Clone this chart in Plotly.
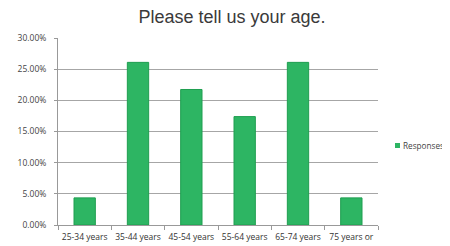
import plotly.graph_objects as go

categories = ["25-34 years", "35-44 years", "45-54 years", "55-64 years", "65-74 years", "75 years or"]
responses = [0.0435, 0.2609, 0.2174, 0.1739, 0.2609, 0.0435]
y_ticks = [0, 0.05, 0.10, 0.15, 0.20, 0.25, 0.30]
y_tick_labels = ["0.00%", "5.00%", "10.00%", "15.00%", "20.00%", "25.00%", "30.00%"]
series_name = "Responses"
bar_color = "#2db563"

W, H = 442, 238  # page has an 8px body margin
ML, MT, MR, MB = 50, 30, 72, 21
PH = H - MT - MB
PW = W - ML - MR

fig = go.Figure()
fig.add_trace(go.Bar(
    x=categories, y=responses, name=series_name,
    marker=dict(color=bar_color, line=dict(color="#1f9e50", width=1)),
    width=0.4, showlegend=False,
))

def px_x(x):  # figure pixel -> paper x
    return (x - ML) / PW

def px_y(y):  # figure pixel -> paper y
    return (H - MB - y) / PH

# legend key (small square + label)
fig.add_shape(type="rect", xref="paper", yref="paper",
              x0=px_x(387), x1=px_x(392), y0=px_y(140), y1=px_y(135),
              fillcolor=bar_color, line=dict(width=0))
fig.add_annotation(text=series_name, xref="paper", yref="paper",
                   x=px_x(392.5), y=px_y(137.5), xanchor="left", yanchor="middle",
                   showarrow=False, font=dict(family="Open Sans", size=8.2, color="#444"))

fig.update_layout(
    width=W, height=H,
    margin=dict(l=ML, r=MR, t=MT, b=MB, autoexpand=False),
    paper_bgcolor="white", plot_bgcolor="white",
    title=dict(text="Please tell us your age.", x=(232 - 8) / W, xanchor="center",
               y=1 - 14.5 / H, yanchor="bottom", yref="container",
               font=dict(family="Liberation Sans", size=18, color="#3a3a3a")),
    showlegend=False,
    bargap=0.6,
)
fig.update_xaxes(
    showline=True, linecolor="#999", linewidth=1,
    ticks="outside", tickson="boundaries", ticklen=4, tickcolor="#999",
    tickfont=dict(family="Open Sans", size=8.5, color="#333"),
    ticklabelstandoff=4,
    tickangle=0, automargin=False,
)
fig.update_yaxes(
    range=[0, 0.30], tickvals=y_ticks, ticktext=y_tick_labels,
    showgrid=True, gridcolor="#a6a6a6", gridwidth=1,
    showline=True, linecolor="#999", linewidth=1,
    ticks="outside", ticklen=3, tickcolor="#999",
    tickfont=dict(family="Open Sans", size=8.5, color="#444"),
    ticklabelstandoff=6,
    automargin=False, zeroline=False,
)

fig.write_html("out.html")
